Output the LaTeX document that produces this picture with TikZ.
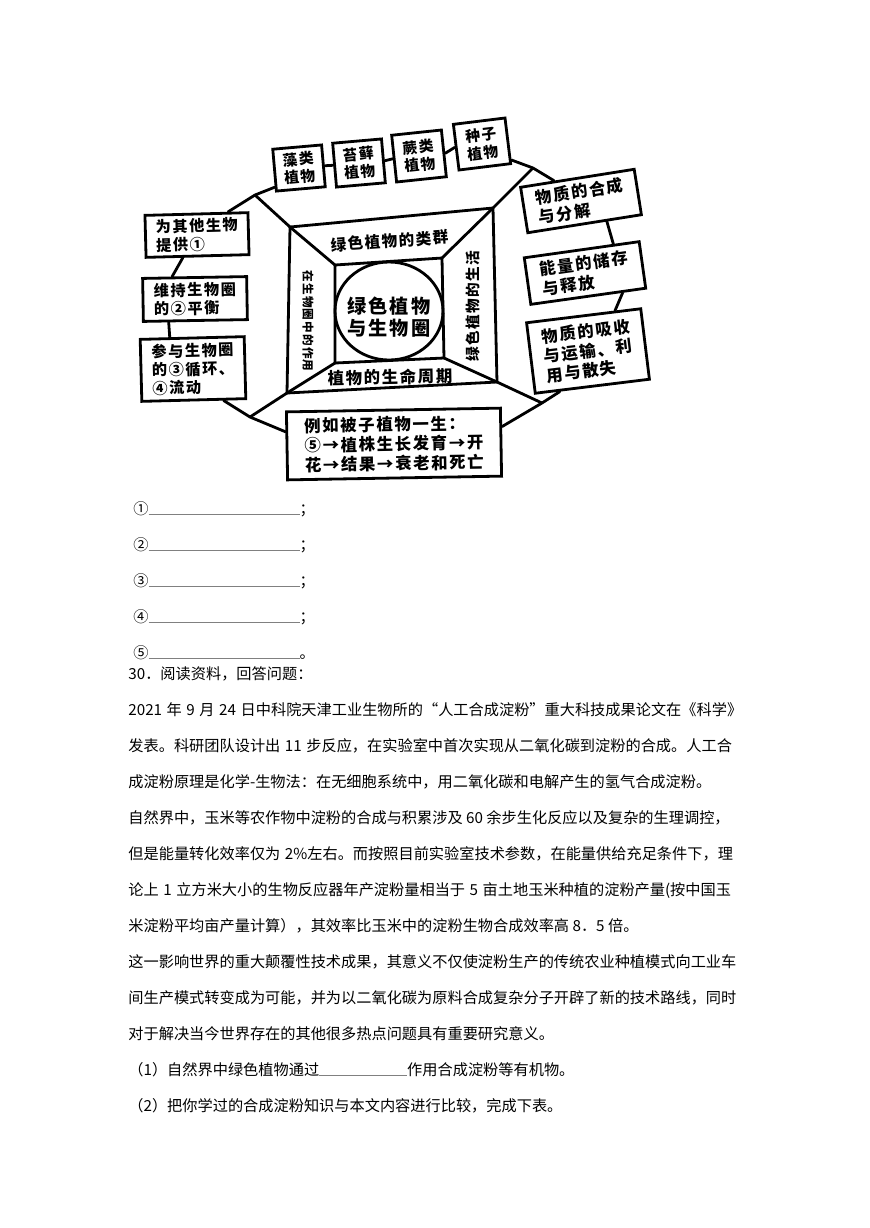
\documentclass[tikz,border=0pt]{standalone}
\usepackage{fontspec}
\setmainfont{Noto Sans CJK SC}
\newfontfamily\handfont[LetterSpace=10]{Noto Sans CJK SC}
\usetikzlibrary{calc}
\XeTeXlinebreaklocale "zh"
\XeTeXlinebreakskip=0pt plus 1pt
\newcommand\fline[2]{\hbox to #1{\spaceskip=0.3em\xspaceskip=0.3em\relax\noindent #2}}
\newcommand\blank[1]{\textcolor{gray}{\rule[-0.6pt]{#1}{0.5pt}}}

\begin{document}
\begin{tikzpicture}[
  x=0.5pt, y=-0.5pt,
  box/.style={draw, line width=1.4pt, fill=white, inner sep=0pt, align=left,
    font=\handfont\bfseries\fontsize{7.6}{9.2}\selectfont},
  topbox/.style={box, font=\handfont\bfseries\fontsize{7.4}{8.8}\selectfont},
  rightbox/.style={box, font=\handfont\bfseries\fontsize{8.2}{9.8}\selectfont},
  ring/.style={line width=1.4pt, line cap=round, line join=round},
  label/.style={inner sep=0pt, font=\handfont\bfseries\fontsize{7.8}{9}\selectfont},
  body/.style={anchor=base west, inner sep=0pt, font=\fontsize{7.6}{9}\selectfont}
]
\useasboundingbox (0,0) rectangle (869,1228);
\fill[white] (0,0) rectangle (869,1228);

% top row: plant groups
\node[topbox, rotate=5, minimum width=24.5pt, minimum height=21pt] (zao) at (299,168) {藻类\\植物};
\node[topbox, rotate=5, minimum width=24.5pt, minimum height=22pt] (tai) at (359,163) {苔藓\\植物};
\node[topbox, rotate=6, minimum width=25pt, minimum height=23.5pt] (jue) at (419,156) {蕨类\\植物};
\node[topbox, rotate=7, minimum width=26pt, minimum height=23pt] (zhong) at (482,144) {种子\\植物};

% right column
\node[rightbox, rotate=9, minimum width=57.5pt, minimum height=23pt] (r1) at (581,201) {物质的合成\\与分解};
\node[rightbox, rotate=8, minimum width=58pt, minimum height=23.5pt] (r2) at (585,273) {能量的储存\\与释放};
\node[rightbox, rotate=7, minimum width=57.5pt, minimum height=35.5pt] (r3) at (588,351) {物质的吸收\\与运输、利\\用与散失};

% left column
\node[box, rotate=1.5, minimum width=51.5pt, minimum height=21pt] (l1) at (197,235) {为其他生物\\提供①};
\node[box, rotate=1, minimum width=52pt, minimum height=21.5pt] (l2) at (195,299) {维持生物圈\\的②平衡};
\node[box, rotate=1.5, minimum width=52pt, minimum height=31pt] (l3) at (193,369) {参与生物圈\\的③循环、\\④流动};

% bottom
\node[rightbox, rotate=1, minimum width=107pt, minimum height=34pt] (bb) at (394,444) {例如被子植物一生：\\⑤→植株生长发育→开\\花→结果→衰老和死亡};

% central frame
\coordinate (oTL) at (290,227);
\coordinate (oTR) at (493,208);
\coordinate (oBR) at (497,382);
\coordinate (oBL) at (287,393);
\coordinate (iTL) at (335,265);
\coordinate (iTR) at (442,258);
\coordinate (iBR) at (444,358);
\coordinate (iBL) at (335,363);
\draw[ring] (oTL) -- (oTR) -- (oBR) -- (oBL) -- cycle;
\draw[ring] (iTL) -- (iTR) -- (iBR) -- (iBL) -- cycle;
\draw[ring] (oTL) -- (iTL) (oTR) -- (iTR) (oBR) -- (iBR) (oBL) -- (iBL);
\draw[ring] (389,311) ellipse [x radius=27pt, y radius=24.5pt];

\node[label, font=\handfont\bfseries\fontsize{9.6}{10.6}\selectfont, align=center] (core) at (389,317) {绿色植物\\与生物圈};
\node[label, rotate=4] (tq) at (390,241) {绿色植物的类群};
\node[label, rotate=1, font=\handfont\bfseries\fontsize{8.2}{9}\selectfont] (bq) at (390,377) {植物的生命周期};
\node[label, rotate=-90, font=\handfont\bfseries\fontsize{5.8}{7}\selectfont] (lq) at (308,321) {在生物圈中的作用};
\node[label, rotate=90, font=\handfont\bfseries\fontsize{7.3}{8}\selectfont] (rq) at (473,306) {绿色植物的生活};

% outer ring
\coordinate (e1) at (255,195);
\coordinate (e2) at (533,168);
\coordinate (e3) at (542,403);
\coordinate (e4) at (250,417);
\draw[ring] (oTL) -- (e1) (oTR) -- (e2) (oBR) -- (e3) (oBL) -- (e4);
\draw[ring] ($(l1.north west)!0.8!(l1.north east)$) -- (e1) -- ($(zao.south west)!0.12!(zao.north west)$);
\draw[ring] (zao.east) -- (tai.west);
\draw[ring] (tai.east) -- (jue.west);
\draw[ring] (jue.east) -- (zhong.west);
\draw[ring] ($(zhong.south east)!0.1!(zhong.north east)$) -- (e2) -- ($(r1.north west)!0.3!(r1.north east)$);
\draw[ring] ($(r1.south west)!0.69!(r1.south east)$) -- ($(r2.north west)!0.77!(r2.north east)$);
\draw[ring] ($(r2.south west)!0.79!(r2.south east)$) -- ($(r3.north west)!0.77!(r3.north east)$);
\draw[ring] ($(r3.south west)!0.22!(r3.south east)$) -- (e3) -- ($(bb.south east)!0.72!(bb.north east)$);
\draw[ring] ($(bb.south west)!0.7!(bb.north west)$) -- (e4) -- ($(l3.south west)!0.78!(l3.south east)$);
\draw[ring] ($(l3.north west)!0.29!(l3.north east)$) -- ($(l2.south west)!0.25!(l2.south east)$);
\draw[ring] ($(l2.north west)!0.29!(l2.north east)$) -- ($(l1.south west)!0.36!(l1.south east)$);

% answer lines
\node[body] (q1) at (133,514) {①\blank{75.5pt}；};
\node[body] (q2) at (133,550) {②\blank{75.5pt}；};
\node[body] (q3) at (133,586) {③\blank{75.5pt}；};
\node[body] (q4) at (133,622) {④\blank{75.5pt}；};
\node[body] (q5) at (133,658) {⑤\blank{75.5pt}。};

% reading text
\node[body] (p0) at (128,679) {30．阅读资料，回答问题：};
\node[body] (p1) at (128,715) {\fline{308.5pt}{2021 年 9 月 24 日中科院天津工业生物所的“人工合成淀粉”重大科技成果论文在《科学》}};
\node[body] (p2) at (128,751) {\fline{306pt}{发表。科研团队设计出 11 步反应，在实验室中首次实现从二氧化碳到淀粉的合成。人工合}};
\node[body] (p3) at (128,787) {成淀粉原理是化学-生物法：在无细胞系统中，用二氧化碳和电解产生的氢气合成淀粉。};
\node[body] (p4) at (128,823) {自然界中，玉米等农作物中淀粉的合成与积累涉及 60 余步生化反应以及复杂的生理调控，};
\node[body] (p5) at (128,859) {\fline{306pt}{\hbox{但}是能量转化效率仅为 2\%左右。而按照目前实验室技术参数，在能量供给充足条件下，理}};
\node[body] (p6) at (128,895) {\fline{307pt}{论上 1 立方米大小的生物反应器年产淀粉量相当于 5 亩土地玉米种植的淀粉产量(按中国玉}};
\node[body] (p7) at (128,931) {米淀粉平均亩产量计算），其效率比玉米中的淀粉生物合成效率高 8．5 倍。};
\node[body] (p8) at (128,967) {\fline{306.5pt}{这一影响世界的重大颠覆性技术成果，其意义不仅使淀粉生产的传统农业种植模式向工业车}};
\node[body] (p9) at (128,1003) {\fline{306pt}{间生产模式转变成为可能，并为以二氧化碳为原料合成复杂分子开辟了新的技术路线，同时}};
\node[body] (p10) at (128,1039) {对于解决当今世界存在的其他很多热点问题具有重要研究意义。};
\node[body] (p11) at (128,1075) {（1）自然界中绿色植物通过\blank{44pt}作用合成淀粉等有机物。};
\node[body] (p12) at (128,1111) {（2）把你学过的合成淀粉知识与本文内容进行比较，完成下表。};
\end{tikzpicture}
\end{document}
